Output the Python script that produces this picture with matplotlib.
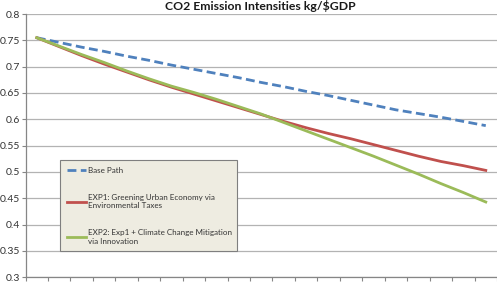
import matplotlib
matplotlib.use("Agg")
import matplotlib.pyplot as plt
import numpy as np

plt.rcParams['font.family'] = ['Lato', 'DejaVu Sans']

title = "CO2 Emission Intensities kg/$GDP"
years = list(range(2010, 2031))
base_path = [0.755, 0.746, 0.737, 0.729, 0.720, 0.712, 0.703, 0.695, 0.687, 0.679,
             0.670, 0.662, 0.653, 0.645, 0.636, 0.627, 0.618, 0.611, 0.604, 0.596, 0.588]
exp1 = [0.755, 0.738, 0.721, 0.705, 0.690, 0.675, 0.661, 0.648, 0.635, 0.622,
        0.609, 0.596, 0.584, 0.573, 0.563, 0.552, 0.541, 0.530, 0.520, 0.512, 0.503]
exp2 = [0.755, 0.739, 0.723, 0.708, 0.692, 0.677, 0.663, 0.651, 0.638, 0.624,
        0.610, 0.594, 0.578, 0.562, 0.546, 0.530, 0.513, 0.496, 0.478, 0.461, 0.443]
labels = ["Base Path",
          "EXP1: Greening Urban Economy via\nEnvironmental Taxes",
          "EXP2: Exp1 + Climate Change Mitigation\nvia Innovation"]
yticks = [0.3, 0.35, 0.4, 0.45, 0.5, 0.55, 0.6, 0.65, 0.7, 0.75, 0.8]
ytick_labels = ["0.3", "0.35", "0.4", "0.45", "0.5", "0.55", "0.6", "0.65", "0.7", "0.75", "0.8"]

W, H = 497, 283
fig = plt.figure(figsize=(W / 100, H / 100), dpi=100)
ax = fig.add_axes([25.5 / W, (H - 277.3) / H, (497 - 25.5) / W, (277.3 - 14) / H])

x = np.arange(len(years))
ax.plot(x, base_path, color="#4F81BD", lw=2.0, ls=(0, (3.2, 1.6)), label=labels[0], zorder=3)
ax.plot(x, exp1, color="#C0504D", lw=2.0, label=labels[1], zorder=3)
ax.plot(x, exp2, color="#9BBB59", lw=2.0, label=labels[2], zorder=4)

ax.set_xlim(-0.5, len(years) - 0.5)
ax.set_ylim(0.3, 0.8)
ax.set_yticks(yticks)
ax.set_yticklabels(ytick_labels)
ax.set_xticks(np.arange(len(years) + 1) - 0.5)
ax.set_xticklabels([])
ax.tick_params(axis='x', direction='out', length=3, width=0.8, color="#868686")
ax.tick_params(axis='y', direction='out', length=3, width=0.8, color="#868686",
               labelsize=7.5, labelcolor="#333333", pad=1)
ax.yaxis.grid(True, color="#B3B3B3", lw=0.9)
ax.set_axisbelow(True)
for s in ["top", "right"]:
    ax.spines[s].set_visible(False)
for s in ["left", "bottom"]:
    ax.spines[s].set_color("#868686")
    ax.spines[s].set_linewidth(0.9)

fig.text(260 / W, 1 - 10 / H, title, ha="center", va="baseline",
         fontsize=8.8, fontweight="bold", color="#1a1a1a")

leg = ax.legend(loc="upper left", bbox_to_anchor=(0.073, 0.4455, 0.375, 0.0),
                mode="expand", fontsize=5.8, frameon=True, fancybox=False,
                handlelength=2.4, handletextpad=0.25, labelspacing=2.5,
                borderpad=0.85, borderaxespad=0)
leg.get_frame().set_facecolor("#EEECE1")
leg.get_frame().set_edgecolor("#7F7F7F")
leg.get_frame().set_linewidth(0.8)
leg.get_frame().set_alpha(1)
for t in leg.get_texts():
    t.set_color("#333333")

fig.savefig("out.png", dpi=100)
